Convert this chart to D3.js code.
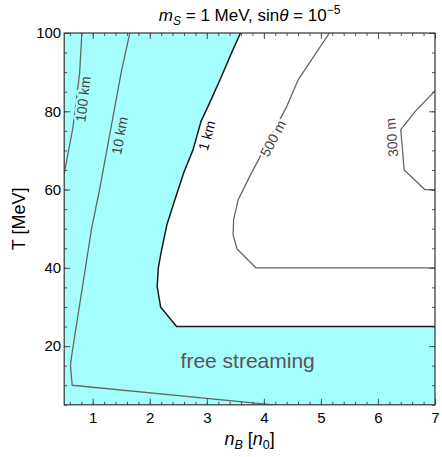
<!DOCTYPE html>
<html>
<head>
<meta charset="utf-8">
<script src="https://cdn.jsdelivr.net/npm/d3@7"></script>
<style>
  body { margin: 0; background: #fff; }
  svg { display: block; font-family: "Liberation Sans", Arial, sans-serif; }
</style>
</head>
<body>
<div id="chart"></div>
<script>
// ---------- data ----------
const xDomain = [0.5, 7];
const yDomain = [5, 100];
const xMajorTicks = [1, 2, 3, 4, 5, 6, 7];
const yMajorTicks = [20, 40, 60, 80, 100];
const xMinorTicks = d3.range(0.6, 7.001, 0.2).map(v => +v.toFixed(2));
const yMinorTicks = d3.range(5, 100.001, 5);

// contour lines, points as [n_B, T]
const contour100km = [[0.81,100],[0.77,89.7],[0.655,76],[0.5,64]];
const contour10km  = [[1.65,100],[1.50,90],[1.12,60],[0.98,50],[0.63,17.5],[0.61,15],[0.64,10],[4.16,5]];
const contour1km   = [[3.59,100],[3.43,94.8],[3.23,88],[3.02,81.2],[2.9,77.5],[2.76,70.2],[2.6,64.5],
                      [2.44,57.4],[2.3,51],[2.2,44],[2.15,40],[2.13,35.2],[2.19,30],[2.47,25],[7,25]];
const contour500m  = [[5.15,100],[4.6,88],[4.4,81.2],[3.75,63.3],[3.55,57.4],[3.47,52.3],[3.46,48.5],
                      [3.53,44.8],[3.86,40],[7,40]];
const contour300m  = [[7,85.2],[6.68,80.4],[6.4,75.3],[6.46,65],[6.82,60],[7,60]];

// contour labels: text, anchor [n_B, T]
const labelNames = ["100 km", "10 km", "1 km", "500 m", "300 m"];
const labelAnchors = [[0.83,83.1],[1.47,73.8],[3.0,73.8],[4.16,73.1],[6.24,73.3]];

const regionLabel = "free streaming";
const regionLabelAnchor = [2.54, 14.5];

// ---------- layout ----------
const W = 442, H = 457;
const L = 64.2, R = 435, T = 33, B = 404.8;

const x = d3.scaleLinear().domain(xDomain).range([L, R]);
const y = d3.scaleLinear().domain(yDomain).range([B, T]);

const svg = d3.select("#chart").append("svg").attr("width", W).attr("height", H);
svg.append("rect").attr("width", W).attr("height", H).attr("fill", "#fff");

svg.append("clipPath").attr("id", "clip").append("rect")
  .attr("x", L).attr("y", T).attr("width", R - L).attr("height", B - T);

const plot = svg.append("g").attr("clip-path", "url(#clip)");

const cyan = "#a5fdfd";
plot.append("rect").attr("x", L).attr("y", T).attr("width", R - L).attr("height", B - T).attr("fill", cyan);

// white (non free-streaming) region enclosed by the 1 km contour
const whiteRegion = contour1km.concat([[xDomain[1], yDomain[1]]]);
const line = d3.line().x(d => x(d[0])).y(d => y(d[1]));
plot.append("path").attr("d", line(whiteRegion) + "Z").attr("fill", "#fff");

const contours = [
  {pts: contour100km, color: "#666", w: 1.3, bg: cyan},
  {pts: contour10km,  color: "#666", w: 1.3, bg: cyan},
  {pts: contour1km,   color: "#1a1a1a", w: 1.5, bg: null},
  {pts: contour500m,  color: "#666", w: 1.3, bg: "#fff"},
  {pts: contour300m,  color: "#666", w: 1.3, bg: "#fff"}
];

contours.forEach(c => {
  plot.append("path").attr("d", line(c.pts)).attr("fill", "none")
    .attr("stroke", c.color).attr("stroke-width", c.w).attr("stroke-linejoin", "round");
});

// labels rotated along nearest contour segment
function segAngle(pts, p) {
  const px = x(p[0]), py = y(p[1]);
  let best = null, bd = Infinity;
  for (let i = 0; i < pts.length - 1; i++) {
    const ax = x(pts[i][0]), ay = y(pts[i][1]), bx = x(pts[i+1][0]), by = y(pts[i+1][1]);
    const dx = bx - ax, dy = by - ay;
    let t = ((px - ax) * dx + (py - ay) * dy) / (dx*dx + dy*dy);
    t = Math.max(0, Math.min(1, t));
    const qx = ax + t*dx, qy = ay + t*dy;
    const d = (px-qx)**2 + (py-qy)**2;
    if (d < bd) { bd = d; best = [dx, dy]; }
  }
  let [dx, dy] = best;
  if (dy > 0) { dx = -dx; dy = -dy; }
  return Math.atan2(dy, dx) * 180 / Math.PI;
}

labelNames.forEach((name, i) => {
  const c = contours[i];
  const a = labelAnchors[i];
  const ang = segAngle(c.pts, a);
  const t = plot.append("text")
    .attr("transform", `translate(${x(a[0])},${y(a[1])}) rotate(${ang})`)
    .attr("text-anchor", "middle").attr("dominant-baseline", "central")
    .attr("font-size", 14)
    .attr("fill", i === 2 ? "#000" : "#444")
    .text(name);
  if (c.bg) {
    t.attr("stroke", c.bg).attr("stroke-width", 5).attr("paint-order", "stroke").attr("stroke-linejoin", "round");
  }
});

plot.append("text")
  .attr("x", x(regionLabelAnchor[0])).attr("y", y(regionLabelAnchor[1]))
  .attr("font-size", 21).attr("fill", "#555")
  .text(regionLabel);

// ---------- frame & ticks ----------
function styleAxis(g) {
  g.select(".domain").remove();
  g.selectAll(".tick line").attr("stroke", "#555").attr("stroke-width", 1);
  g.selectAll(".tick text").attr("font-size", 15).attr("fill", "#000")
    .attr("font-family", "'Liberation Sans', Arial, sans-serif");
}

svg.append("g").attr("transform", `translate(0,${B})`)
  .call(d3.axisBottom(x).tickValues(xMajorTicks).tickSize(-6).tickPadding(8).tickFormat(d3.format("d"))).call(styleAxis);
svg.append("g").attr("transform", `translate(0,${B})`)
  .call(d3.axisBottom(x).tickValues(xMinorTicks).tickSize(-3).tickFormat("")).call(styleAxis);
svg.append("g").attr("transform", `translate(0,${T})`)
  .call(d3.axisTop(x).tickValues(xMajorTicks).tickSize(-6).tickFormat("")).call(styleAxis);
svg.append("g").attr("transform", `translate(0,${T})`)
  .call(d3.axisTop(x).tickValues(xMinorTicks).tickSize(-3).tickFormat("")).call(styleAxis);

svg.append("g").attr("transform", `translate(${L},0)`)
  .call(d3.axisLeft(y).tickValues(yMajorTicks).tickSize(-6).tickPadding(3).tickFormat(d3.format("d"))).call(styleAxis);
svg.append("g").attr("transform", `translate(${L},0)`)
  .call(d3.axisLeft(y).tickValues(yMinorTicks).tickSize(-3).tickFormat("")).call(styleAxis);
svg.append("g").attr("transform", `translate(${R},0)`)
  .call(d3.axisRight(y).tickValues(yMajorTicks).tickSize(-6).tickFormat("")).call(styleAxis);
svg.append("g").attr("transform", `translate(${R},0)`)
  .call(d3.axisRight(y).tickValues(yMinorTicks).tickSize(-3).tickFormat("")).call(styleAxis);

svg.append("rect").attr("x", L).attr("y", T).attr("width", R - L).attr("height", B - T)
  .attr("fill", "none").attr("stroke", "#333").attr("stroke-width", 1.2);

// ---------- titles ----------
const title = svg.append("text").attr("x", (L + R) / 2).attr("y", 21)
  .attr("text-anchor", "middle").attr("font-size", 17);
title.append("tspan").attr("font-style", "italic").text("m");
title.append("tspan").attr("font-style", "italic").attr("font-size", 12).attr("dy", 4).text("S");
title.append("tspan").attr("dy", -4).text(" = 1 MeV, sin");
title.append("tspan").attr("font-style", "italic").text("θ");
title.append("tspan").text(" = 10");
title.append("tspan").attr("font-size", 12).attr("dy", -7).text("−5");

const xt = svg.append("text").attr("x", (L + R) / 2).attr("y", 445)
  .attr("text-anchor", "middle").attr("font-size", 18);
xt.append("tspan").attr("font-style", "italic").text("n");
xt.append("tspan").attr("font-style", "italic").attr("font-size", 12.5).attr("dy", 4).text("B");
xt.append("tspan").attr("dy", -4).text(" [");
xt.append("tspan").attr("font-style", "italic").text("n");
xt.append("tspan").attr("font-size", 12.5).attr("dy", 4).text("0");
xt.append("tspan").attr("dy", -4).text("]");

svg.append("text").attr("transform", `translate(25,${(T + B) / 2}) rotate(-90)`)
  .attr("text-anchor", "middle").attr("font-size", 18).text("T [MeV]");
</script>
</body>
</html>
